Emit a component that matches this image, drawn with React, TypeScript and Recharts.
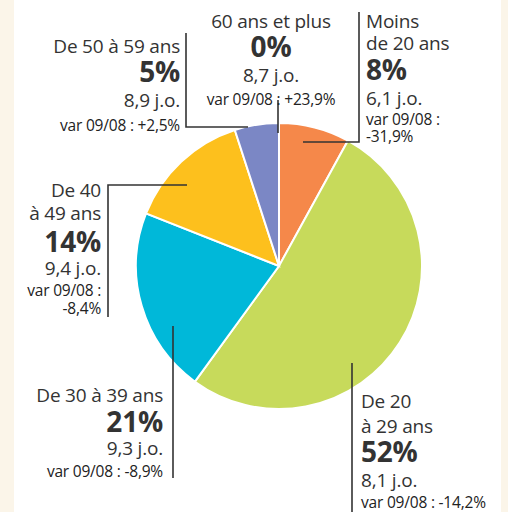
import React from "react";
import { PieChart, Pie, Cell } from "recharts";

// ---- data ----
const categories = [
  "Moins de 20 ans",
  "De 20 à 29 ans",
  "De 30 à 39 ans",
  "De 40 à 49 ans",
  "De 50 à 59 ans",
  "60 ans et plus",
];
const shares = [8, 52, 21, 14, 5, 0];
const absences = ["6,1 j.o.", "8,1 j.o.", "9,3 j.o.", "9,4 j.o.", "8,9 j.o.", "8,7 j.o."];
const variations = ["-31,9%", "-14,2%", "-8,9%", "-8,4%", "+2,5%", "+23,9%"];
const nameLines = [
  ["Moins", "de 20 ans"],
  ["De 20", "à 29 ans"],
  ["De 30 à 39 ans"],
  ["De 40", "à 49 ans"],
  ["De 50 à 59 ans"],
  ["60 ans et plus"],
];
const varSplit = [true, false, false, true, false, false];

// ---- styles / layout ----
const colors = ["#F5884A", "#C7DA5B", "#00B8D9", "#FDC01D", "#7B87C5", "#7B87C5"];
const W = 508;
const H = 512;
const CX = 279;
const CY = 266;
const R = 143;
const FONT = "'Open Sans', 'Noto Sans', sans-serif";
const TXT = "#333";

type Layout = {
  anchor: "start" | "middle" | "end";
  x: number; // relative to CX
  ys: number[]; // baselines relative to CY
  line: [number, number][]; // leader polyline relative to center
};

const rel = (pts: number[][]) => pts.map(([a, b]) => [a - CX, b - CY]) as [number, number][];

const layouts: Layout[] = [
  { anchor: "start", x: 87, ys: [28, 50, 80, 105, 125, 142].map((v) => v - CY), line: rel([[359, 12], [359, 142], [303, 142]]) },
  { anchor: "start", x: 82, ys: [408, 433, 462, 487, 508].map((v) => v - CY), line: rel([[352, 363], [352, 512]]) },
  { anchor: "end", x: -116, ys: [402, 432, 455, 477].map((v) => v - CY), line: rel([[173, 326], [173, 478]]) },
  { anchor: "end", x: -178, ys: [197, 220, 252, 275, 296, 314].map((v) => v - CY), line: rel([[108, 317], [108, 185], [187, 185]]) },
  { anchor: "end", x: -99, ys: [53, 82, 107, 131].map((v) => v - CY), line: rel([[186, 33], [186, 127], [248, 127]]) },
  { anchor: "middle", x: -8, ys: [28, 57, 82, 105].map((v) => v - CY), line: rel([[278, 100], [278, 133]]) },
];

const data = categories.map((name, i) => ({ name, value: shares[i] }));

const renderLabel = (props: any) => {
  const { cx, cy, index } = props;
  const L = layouts[index];
  if (!L) return null;
  const x = cx + L.x;
  const lines: { t: string; kind: "n" | "b" | "s" }[] = [];
  nameLines[index].forEach((t) => lines.push({ t, kind: "n" }));
  lines.push({ t: `${shares[index]}%`, kind: "b" });
  lines.push({ t: absences[index], kind: "n" });
  if (varSplit[index]) {
    lines.push({ t: "var 09/08 :", kind: "s" });
    lines.push({ t: variations[index], kind: "s" });
  } else {
    lines.push({ t: `var 09/08 : ${variations[index]}`, kind: "s" });
  }
  const pts = L.line.map(([a, b]) => `${cx + a},${cy + b}`).join(" ");
  return (
    <g key={`lbl-${index}`}>
      <polyline points={pts} fill="none" stroke="#333" strokeWidth={1.6} />
      {lines.map((ln, j) => (
        <text
          key={j}
          x={x}
          y={cy + L.ys[j]}
          textAnchor={L.anchor}
          fontFamily={FONT}
          fontSize={ln.kind === "b" ? 28 : ln.kind === "s" ? 15.5 : 19}
          fontWeight={ln.kind === "b" ? 700 : 400}
          fill={ln.kind === "s" ? "#222" : TXT}
          letterSpacing={ln.kind === "s" ? -0.2 : -0.2}
        >
          {ln.t}
        </text>
      ))}
    </g>
  );
};

export default function App() {
  return (
    <div style={{ position: "relative", width: W, height: H, background: "#FBF5E9", overflow: "hidden" }}>
      <style>{`body{margin:0}`}</style>
      <div style={{ position: "absolute", left: 14, top: 0, width: 487, height: H, background: "#FFFFFF" }} />
      <div style={{ position: "absolute", left: 0, top: 0 }}>
        <PieChart width={W} height={H} margin={{ top: 0, right: 0, bottom: 0, left: 0 }}>
          <Pie
            data={data}
            dataKey="value"
            nameKey="name"
            cx={CX}
            cy={CY}
            outerRadius={R}
            startAngle={90}
            endAngle={-270}
            stroke="#FFFFFF"
            strokeWidth={2}
            label={renderLabel}
            labelLine={false}
            isAnimationActive={false}
          >
            {data.map((d, i) => (
              <Cell key={d.name} fill={colors[i]} />
            ))}
          </Pie>
        </PieChart>
      </div>
    </div>
  );
}
